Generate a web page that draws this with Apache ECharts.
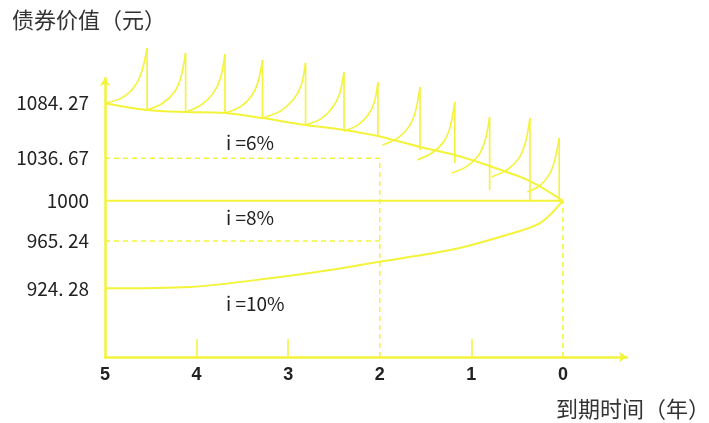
<!DOCTYPE html>
<html><head><meta charset="utf-8">
<script src="https://cdn.jsdelivr.net/npm/echarts@6/dist/echarts.min.js"></script>
<style>html,body{margin:0;padding:0;background:#fff}#c{width:709px;height:423px}</style>
</head><body><div id="c"></div>
<script>
// ---- data (x = years to maturity, y = bond value in 元) ----
var xTicks = [5, 4, 3, 2, 1, 0];
var yTickValues = [1084.27, 1036.67, 1000, 965.24, 924.28];
var yTickLabels = ['1084. 27', '1036. 67', '1000', '965. 24', '924. 28'];
var curve6 = [[5,1084.27],[4.54,1078.4],[4.12,1076.6],[3.69,1075.8],[3.28,1071.4],[2.81,1065.4],[2.39,1061.1],[2.02,1055.9],[1.56,1046.4],[1.18,1039.5],[0.80,1030.0],[0.36,1017.0],[0,1000]];
var line8 = [[5,1000],[0,1000]];
var curve10 = [[5,924.28],[4.07,925.5],[3.09,934.1],[2.54,940.1],[2.02,947.1],[1.23,957.4],[0.69,968.7],[0.25,980.7],[0,1000]];
var toothArcs = [
  [[5,1084.27],[4.82,1088.6],[4.68,1098.4],[4.60,1111.3],[4.54,1131.9]],
  [[4.54,1078.4],[4.37,1084.2],[4.24,1094.1],[4.17,1107.0],[4.12,1127.6]],
  [[4.12,1076.6],[3.95,1082.7],[3.82,1092.7],[3.74,1105.7],[3.69,1126.7]],
  [[3.69,1075.8],[3.52,1081.3],[3.40,1090.5],[3.33,1102.3],[3.28,1121.5]],
  [[3.28,1071.4],[3.09,1077.2],[2.95,1086.7],[2.86,1099.0],[2.81,1119.0]],
  [[2.81,1065.4],[2.64,1070.9],[2.52,1080.1],[2.44,1091.9],[2.39,1111.2]],
  [[2.39,1060.2],[2.24,1065.3],[2.13,1073.8],[2.06,1084.8],[2.02,1102.5]],
  [[1.97,1048.1],[1.80,1054.2],[1.68,1064.2],[1.61,1077.2],[1.56,1098.2]],
  [[1.59,1035.2],[1.43,1041.2],[1.30,1051.2],[1.23,1064.2],[1.18,1085.3]],
  [[1.21,1023.9],[1.05,1029.7],[0.92,1039.4],[0.85,1052.0],[0.80,1072.3]],
  [[0.78,1020.5],[0.61,1026.6],[0.48,1036.8],[0.41,1050.0],[0.36,1071.4]],
  [[0.39,1007.5],[0.25,1013.1],[0.15,1022.5],[0.09,1034.6],[0.04,1054.2]]
];
// [time, peak value, value after the drop]
var toothDrops = [[4.54,1131.9,1078.4],[4.12,1127.6,1076.6],[3.69,1126.7,1075.8],[3.28,1121.5,1071.4],[2.81,1119.0,1065.4],[2.39,1111.2,1061.1],[2.02,1102.5,1055.0],[1.56,1098.2,1043.8],[1.18,1085.3,1032.6],[0.80,1072.3,1009.3],[0.36,1071.4,998.9],[0.04,1054.2,998.9]];
var refT = 2;            // dashed reference time
var refHigh = 1036.67;   // value at t=2, i=6%
var refLow = 965.24;     // value at t=2, i=10%
var rateLabels = ['i =6%', 'i =8%', 'i =10%'];
var yMin = 865, yMax = 1106, xMinExt = -0.7, xMax = 5;

// ---- build ----
var YEL = '#f3f33a';
var arcData = [];
toothArcs.forEach(function (a, i) { if (i) arcData.push('-'); a.forEach(function (p) { arcData.push(p); }); });
var dropData = [];
toothDrops.forEach(function (d, i) { if (i) dropData.push('-'); dropData.push([d[0], d[1]], [d[0], d[2]]); });
var dashData = [[xMax, refHigh], [refT, refHigh], '-', [xMax, refLow], [refT, refLow], '-',
  [refT, yMin], [refT, refHigh], '-', [0, yMin], [0, 1000]];

var chart = echarts.init(document.getElementById('c'), null, {renderer: 'canvas'});
chart.setOption({
  animation: false,
  backgroundColor: '#fff',
  grid: {left: 105, right: 82, top: 78, bottom: 66, containLabel: false},
  xAxis: {
    type: 'value', inverse: true, min: xMinExt, max: xMax,
    splitLine: {show: false},
    axisLine: {show: true, onZero: false, lineStyle: {color: YEL, width: 2.5}, symbol: ['none', 'arrow'], symbolSize: [8, 8]},
    axisTick: {show: true, inside: true, length: 18, customValues: [4, 3, 1], lineStyle: {color: YEL, width: 1.5}},
    axisLabel: {customValues: xTicks, margin: 9, color: '#222', fontWeight: 'bold', fontSize: 18,
      fontFamily: 'Liberation Sans, Arial, sans-serif'}
  },
  yAxis: {
    type: 'value', min: yMin, max: yMax, position: 'left',
    splitLine: {show: false},
    axisLine: {show: true, onZero: false, lineStyle: {color: YEL, width: 2.5}, symbol: ['none', 'arrow'], symbolSize: [8, 8]},
    axisTick: {show: false},
    axisLabel: {customValues: yTickValues, margin: 16, color: '#222', fontSize: 19,
      fontFamily: 'Noto Sans CJK SC, sans-serif',
      formatter: function (v) { var i = yTickValues.indexOf(v); return i >= 0 ? yTickLabels[i] : ''; }}
  },
  series: [
    {type: 'line', data: curve6, smooth: 0.3, showSymbol: false, lineStyle: {color: YEL, width: 2}, clip: false},
    {type: 'line', data: line8, showSymbol: false, lineStyle: {color: YEL, width: 2}, clip: false},
    {type: 'line', data: curve10, smooth: 0.3, showSymbol: false, lineStyle: {color: YEL, width: 2}, clip: false},
    {type: 'line', data: arcData, smooth: 0.3, showSymbol: false, connectNulls: false, lineStyle: {color: YEL, width: 1.6}, clip: false},
    {type: 'line', data: dropData, showSymbol: false, connectNulls: false, lineStyle: {color: YEL, width: 1.6}, clip: false},
    {type: 'line', data: dashData, showSymbol: false, connectNulls: false, lineStyle: {color: YEL, width: 1.5, type: [5, 4]}, clip: false}
  ],
  graphic: [
    {type: 'text', left: 12, top: 9, style: {text: '债券价值（元）', fill: '#333', font: '22px "Noto Sans CJK SC"'}},
    {type: 'text', left: 556, top: 398, style: {text: '到期时间（年）', fill: '#333', font: '22px "Noto Sans CJK SC"'}},
    {type: 'text', left: 226, top: 133, style: {text: rateLabels[0], fill: '#222', font: '19px "Noto Sans CJK SC"'}},
    {type: 'text', left: 226, top: 208, style: {text: rateLabels[1], fill: '#222', font: '19px "Noto Sans CJK SC"'}},
    {type: 'text', left: 226, top: 294, style: {text: rateLabels[2], fill: '#222', font: '19px "Noto Sans CJK SC"'}}
  ]
});
</script></body></html>
